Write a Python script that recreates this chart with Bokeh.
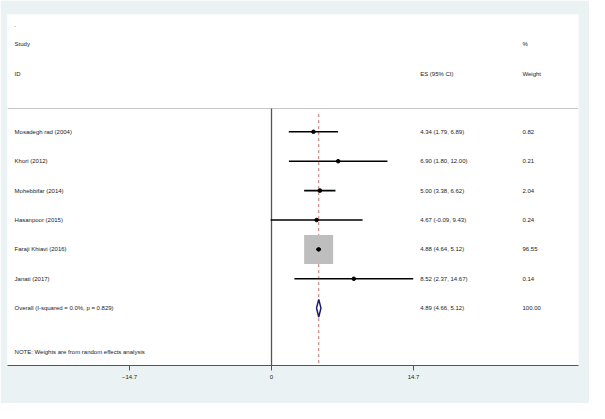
from bokeh.plotting import figure
from bokeh.models import Range1d, FixedTicker
from bokeh.core.properties import value
from bokeh.embed import file_html
from bokeh.resources import INLINE

# ---- data ----
studies = ["Mosadegh rad (2004)", "Khori (2012)", "Mohebbifar (2014)",
           "Hasanpoor (2015)", "Faraji Khiavi (2016)", "Janati (2017)"]
es = [4.34, 6.90, 5.00, 4.67, 4.88, 8.52]
ci_lo = [1.79, 1.80, 3.38, -0.09, 4.64, 2.37]
ci_hi = [6.89, 12.00, 6.62, 9.43, 5.12, 14.67]
weights = [0.82, 0.21, 2.04, 0.24, 96.55, 0.14]

overall_label = "Overall  (I-squared = 0.0%, p = 0.829)"
overall_es = 4.89
overall_lo = 4.66
overall_hi = 5.12
overall_weight = 100.00

note = "NOTE: Weights are from random effects analysis"
tick_values = [-14.7, 0, 14.7]

# ---- layout helpers ----
FONT = value("Liberation Sans")
FS = "6px"
TXT = "#222222"
X_LABEL = -26.6
X_ES = 15.39
X_W = 25.98

p = figure(width=589, height=403, output_backend="svg", toolbar_location=None,
           x_range=Range1d(-27.33, 31.78), y_range=Range1d(7.95, -3.99),
           min_border_left=7, min_border_right=11, min_border_top=14,
           min_border_bottom=38)
p.background_fill_color = "white"
p.border_fill_color = "#EAF2F3"
p.outline_line_color = None
p.xgrid.visible = False
p.ygrid.visible = False
p.yaxis.visible = False

rows = list(range(len(studies)))
overall_row = len(studies)
header_line_y = -0.79
bottom_y = 7.95

# header separator and reference lines
p.segment(x0=[-27.33], y0=[header_line_y], x1=[31.78], y1=[header_line_y],
          line_color="#C4C4C4", line_width=1)
p.segment(x0=[0], y0=[header_line_y], x1=[0], y1=[bottom_y],
          line_color="#555555", line_width=1.3)
p.segment(x0=[overall_es], y0=[-0.6], x1=[overall_es], y1=[bottom_y],
          line_color="#B04848", line_width=0.8, line_dash="3 3")

# weight boxes (area proportional to weight)
max_w = max(weights)
box_sizes = [29.0 * (w / max_w) ** 0.5 for w in weights]
p.scatter(x=es, y=rows, size=box_sizes, marker="square",
          fill_color="#BEBEBE", line_color=None)

# confidence intervals
p.segment(x0=ci_lo, y0=rows, x1=ci_hi, y1=rows, line_color="black", line_width=1.6)
p.scatter(x=es, y=rows, size=3.6, marker="circle", fill_color="black", line_color="black")

# overall diamond
h = 0.3
p.patch(x=[overall_lo, overall_es, overall_hi, overall_es],
        y=[overall_row, overall_row - h, overall_row, overall_row + h],
        fill_color="white", line_color="#1A1A6E", line_width=1.5)

# texts
def txt(x, y, t):
    p.text(x=x, y=y, text=t, text_font=FONT, text_font_size=FS,
           text_color=TXT, text_baseline="middle", text_align="left")

txt([X_LABEL], [-3.64], ["."])
txt([X_LABEL, X_W], [-2.97, -2.97], ["Study", "%"])
txt([X_LABEL, X_ES, X_W], [-1.98] * 3, ["ID", "ES (95% CI)", "Weight"])

txt([X_LABEL] * len(studies), rows, studies)
txt([X_ES] * len(studies), rows,
    [f"{e:.2f} ({l:.2f}, {u:.2f})" for e, l, u in zip(es, ci_lo, ci_hi)])
txt([X_W] * len(studies), rows, [f"{w:.2f}" for w in weights])

txt([X_LABEL], [overall_row], [overall_label])
txt([X_ES], [overall_row], [f"{overall_es:.2f} ({overall_lo:.2f}, {overall_hi:.2f})"])
txt([X_W], [overall_row], [f"{overall_weight:.2f}"])

txt([X_LABEL], [7.5], [note])

# x axis
ax = p.xaxis[0]
ax.ticker = FixedTicker(ticks=tick_values)
ax.minor_tick_line_color = None
ax.major_tick_in = 0
ax.major_tick_out = 5
ax.axis_line_color = "#555555"
ax.major_tick_line_color = "#555555"
ax.major_label_text_font = "Liberation Sans"
ax.major_label_text_font_size = "6px"
ax.major_label_text_color = TXT
ax.major_label_standoff = 4

open("out.html", "w").write(file_html(p, INLINE))
